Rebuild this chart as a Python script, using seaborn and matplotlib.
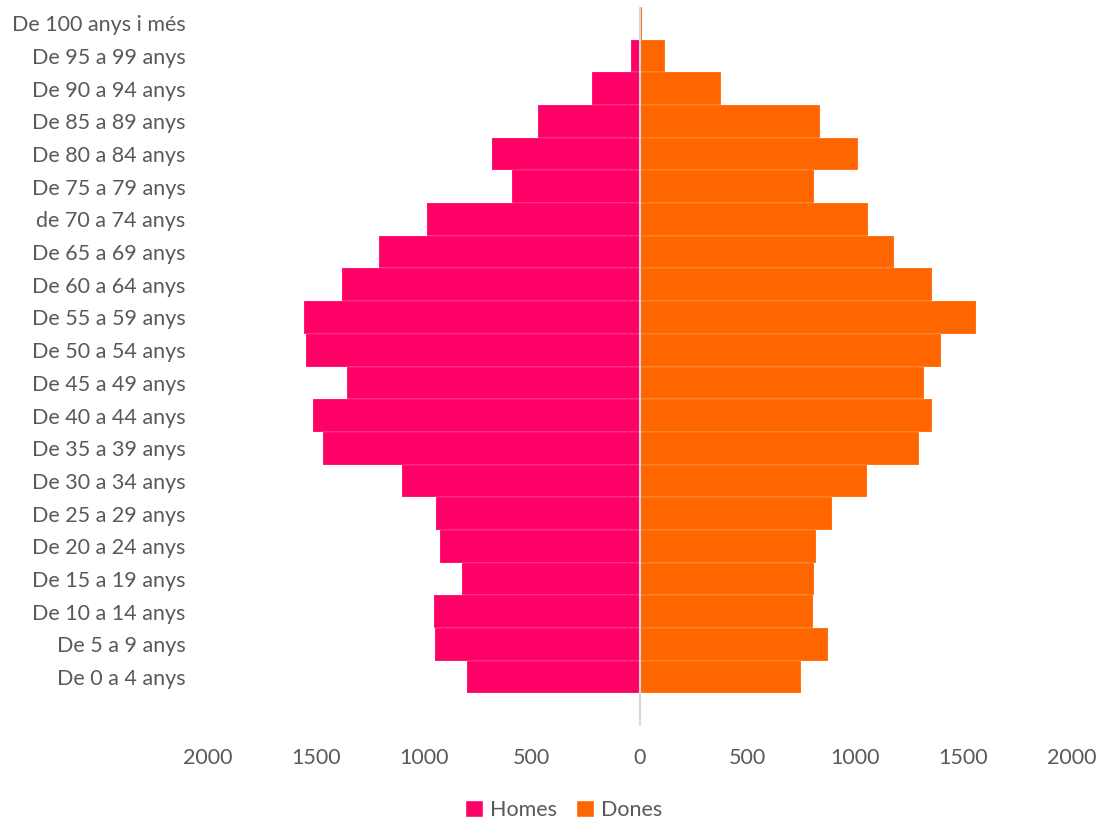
import pandas as pd
import matplotlib
matplotlib.use('Agg')
import matplotlib.pyplot as plt
from matplotlib.patches import Patch
import seaborn as sns

# Age groups, from top to bottom
grups = ['De 100 anys i més', 'De 95 a 99 anys', 'De 90 a 94 anys', 'De 85 a 89 anys',
         'De 80 a 84 anys', 'De 75 a 79 anys', 'de 70 a 74 anys', 'De 65 a 69 anys',
         'De 60 a 64 anys', 'De 55 a 59 anys', 'De 50 a 54 anys', 'De 45 a 49 anys',
         'De 40 a 44 anys', 'De 35 a 39 anys', 'De 30 a 34 anys', 'De 25 a 29 anys',
         'De 20 a 24 anys', 'De 15 a 19 anys', 'De 10 a 14 anys', 'De 5 a 9 anys',
         'De 0 a 4 anys']

homes = [2, 38, 222, 471, 684, 590, 984, 1206, 1379, 1555, 1547, 1356,
         1514, 1469, 1102, 943, 926, 824, 951, 949, 801]
dones = [12, 115, 379, 834, 1011, 809, 1058, 1180, 1356, 1560, 1398, 1318,
         1356, 1296, 1052, 891, 818, 807, 803, 871, 747]

x_ticks = [-2000, -1500, -1000, -500, 0, 500, 1000, 1500, 2000]

colors = {'Homes': '#FF0066', 'Dones': '#FF6600'}

# Long format: men on the negative side
df = pd.concat([
    pd.DataFrame({'grup': grups, 'sexe': 'Homes', 'valor': [-v for v in homes]}),
    pd.DataFrame({'grup': grups, 'sexe': 'Dones', 'valor': dones}),
])

sns.set_style('white')
plt.rcParams['font.family'] = ['Lato', 'DejaVu Sans']

fig = plt.figure(figsize=(11.05, 8.24), dpi=100)
ax = fig.add_axes([0.1882, 0.1189, 0.7814, 0.8726])

sns.barplot(data=df, x='valor', y='grup', hue='sexe', order=grups,
            palette=colors, saturation=1, dodge=False, width=1.0, orient='h',
            edgecolor=(1, 1, 1, 0.45), linewidth=0.3, legend=False, ax=ax)

ax.axvline(0, color='#D9D9D9', lw=1.5, zorder=5)

ax.set_xlim(-2000, 2000)
ax.set_ylim(len(grups) + 0.5, -0.5)
ax.set_xticks(x_ticks)
ax.set_xticklabels([str(abs(t)) for t in x_ticks])
ax.set_xlabel('')
ax.set_ylabel('')
ax.tick_params(axis='x', length=0, pad=16, labelsize=15.5, labelcolor='#595959')
ax.tick_params(axis='y', length=0, pad=16, labelsize=15.5, labelcolor='#595959')
for s in ax.spines.values():
    s.set_visible(False)

handles = [Patch(facecolor=colors['Homes'], label='Homes'),
           Patch(facecolor=colors['Dones'], label='Dones')]
fig.legend(handles=handles, loc='center', bbox_to_anchor=(0.51, 0.017), ncol=2,
           frameon=False, handlelength=0.85, handleheight=0.85, handletextpad=0.3,
           columnspacing=0.9, fontsize=15.5, labelcolor='#595959')

fig.savefig('out.png', dpi=100)
